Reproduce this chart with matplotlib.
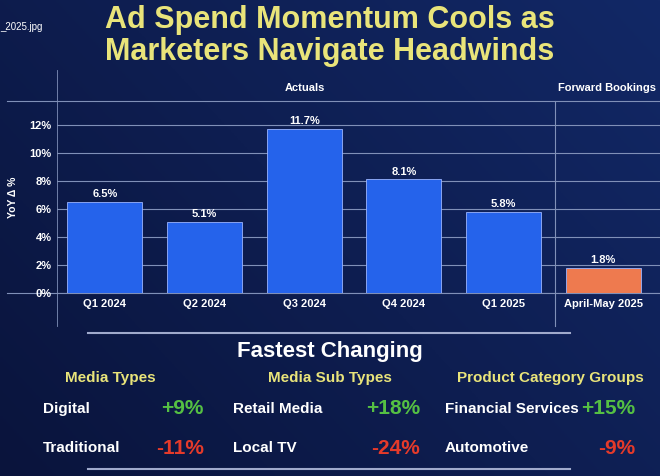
import matplotlib
matplotlib.use('Agg')
import matplotlib.pyplot as plt
import numpy as np

# 数据
periods = ['Q1 2024', 'Q2 2024', 'Q3 2024', 'Q4 2024', 'Q1 2025', 'April-May 2025']
yoy = [6.5, 5.1, 11.7, 8.1, 5.8, 1.8]
yticks = [0, 2, 4, 6, 8, 10, 12]
groups = ['Media Types', 'Media Sub Types', 'Product Category Groups']
up_names = ['Digital', 'Retail Media', 'Financial Services']
up_vals = ['+9%', '+18%', '+15%']
down_names = ['Traditional', 'Local TV', 'Automotive']
down_vals = ['-11%', '-24%', '-9%']

W, H = 660, 476
plt.rcParams['font.family'] = ['Liberation Sans', 'DejaVu Sans']
fig = plt.figure(figsize=(6.6, 4.76), dpi=100)

# 背景渐变
bg = fig.add_axes([0, 0, 1, 1])
gx = np.linspace(0, 1, 200)
gy = np.linspace(0, 1, 200)
gxx, gyy = np.meshgrid(gx, gy)
t = 0.6 * gxx + 0.4 * gyy
c1 = np.array([0x0a, 0x14, 0x3c]) / 255
c2 = np.array([0x12, 0x28, 0x66]) / 255
img = c1 + (c2 - c1) * t[..., None]
bg.imshow(img, extent=[0, 1, 0, 1], aspect='auto', origin='lower')
bg.set_axis_off()

def fx(px): return px / W
def fy(py): return 1 - py / H

yellow = '#e9e47a'
fig.text(fx(330), fy(20), 'Ad Spend Momentum Cools as', color=yellow, fontsize=22,
         fontweight='bold', ha='center', va='center')
fig.text(fx(330), fy(52), 'Marketers Navigate Headwinds', color=yellow, fontsize=22,
         fontweight='bold', ha='center', va='center')
fig.text(fx(0), fy(27), '_2025.jpg', color='white', fontsize=7, ha='left', va='center')

# 柱状图
ax = fig.add_axes([fx(57), fy(293), fx(660) - fx(57), fy(101) - fy(293)])
ax.set_facecolor('none')
x = np.arange(len(periods))
colors = ['#2563eb'] * 5 + ['#ee7a4f']
ax.bar(x, yoy, width=0.75, color=colors, edgecolor='#9bb4ff', linewidth=0.6, zorder=3)
for xi, v in zip(x, yoy):
    ax.text(xi, v + 0.2, f'{v}%', color='white', fontsize=8, fontweight='bold',
            ha='center', va='bottom', zorder=4)
ax.set_xlim(-0.48, 5.57)
ax.set_ylim(0, 13.7)
ax.set_yticks(yticks)
ax.set_yticklabels([f'{v}%' for v in yticks], color='white', fontsize=8, fontweight='bold')
ax.set_xticks(x)
ax.set_xticklabels(periods, color='white', fontsize=8, fontweight='bold')
ax.tick_params(length=0, pad=4)
ax.grid(axis='y', color='#8090b8', linewidth=0.8, zorder=0)
for s in ax.spines.values():
    s.set_visible(False)
ax.axvline(4.52, color='#8090b8', linewidth=0.8, ymin=-0.17, clip_on=False)
ax.set_ylabel('YoY Δ %', color='white', fontsize=7.5, fontweight='bold', labelpad=8)

# 顶部/底部横线与分组标题
bg.plot([fx(7), 1], [fy(101), fy(101)], color='#8090b8', lw=0.8)
bg.plot([fx(7), 1], [fy(293), fy(293)], color='#8090b8', lw=0.8)
bg.plot([fx(57), fx(57)], [fy(70), fy(326)], color='#8090b8', lw=0.6)
bg.set_xlim(0, 1); bg.set_ylim(0, 1)
fig.text(fx(305), fy(88), 'Actuals', color='white', fontsize=8, fontweight='bold',
         ha='center', va='center')
fig.text(fx(607), fy(88), 'Forward Bookings', color='white', fontsize=8,
         fontweight='bold', ha='center', va='center')

# 下方 "Fastest Changing"
bg.plot([fx(88), fx(570)], [fy(333), fy(333)], color='#a0aacc', lw=1.5)
bg.plot([fx(88), fx(570)], [fy(469), fy(469)], color='#a0aacc', lw=1.5)
fig.text(fx(330), fy(351), 'Fastest Changing', color='white', fontsize=16,
         fontweight='bold', ha='center', va='center')
gcx = [110, 330, 550]
name_x = [43, 233, 445]
val_x = [204, 420, 635]
for i in range(3):
    fig.text(fx(gcx[i]), fy(378), groups[i], color=yellow, fontsize=11,
             fontweight='bold', ha='center', va='center')
    fig.text(fx(name_x[i]), fy(409), up_names[i], color='white', fontsize=11,
             fontweight='bold', ha='left', va='center')
    fig.text(fx(val_x[i]), fy(409), up_vals[i], color='#55c043', fontsize=15,
             fontweight='bold', ha='right', va='center')
    fig.text(fx(name_x[i]), fy(448), down_names[i], color='white', fontsize=11,
             fontweight='bold', ha='left', va='center')
    fig.text(fx(val_x[i]), fy(448), down_vals[i], color='#e53a2a', fontsize=15,
             fontweight='bold', ha='right', va='center')

fig.savefig('out.png', dpi=100)
